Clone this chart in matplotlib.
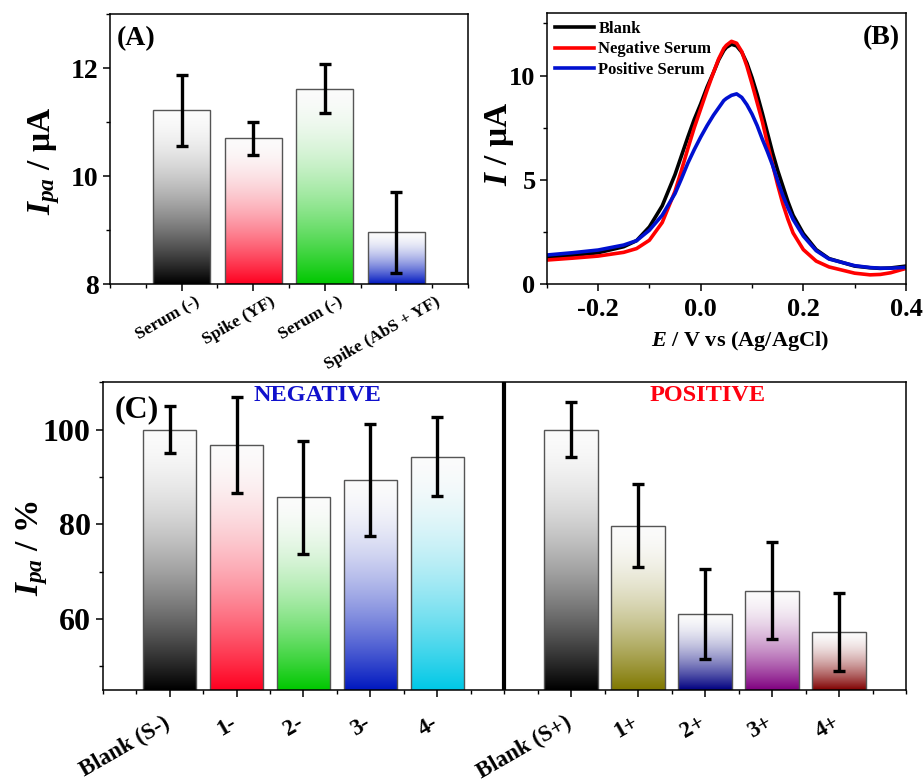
import matplotlib
matplotlib.use('Agg')
import matplotlib.pyplot as plt
import matplotlib.transforms as mtransforms
from matplotlib.ticker import MultipleLocator
from matplotlib.colors import to_rgb
import numpy as np

plt.rcParams['font.family'] = 'Liberation Serif'
plt.rcParams['font.weight'] = 'bold'
plt.rcParams['axes.labelweight'] = 'bold'
plt.rcParams['mathtext.fontset'] = 'custom'
plt.rcParams['mathtext.it'] = 'Liberation Serif:italic:bold'
plt.rcParams['mathtext.rm'] = 'Liberation Serif:bold'
plt.rcParams['mathtext.bf'] = 'Liberation Serif:bold'
plt.rcParams['axes.linewidth'] = 1.1

# ---- panel A data
a_labels = ['Serum (-)', 'Spike (YF)', 'Serum (-)', 'Spike (AbS + YF)']
a_values = [11.22, 10.70, 11.62, 8.96]
a_errors = [0.66, 0.30, 0.45, 0.75]
a_colors = ['#000000', '#ff0020', '#00c800', '#0018c0']

# ---- panel B data (differential pulse voltammograms)
b_potential = [-0.30, -0.25, -0.20, -0.15, -0.125, -0.10, -0.075, -0.05, -0.0375, -0.025,
               -0.0125, 0.0, 0.0125, 0.025, 0.035, 0.045, 0.05, 0.06, 0.07, 0.08,
               0.09, 0.10, 0.11, 0.12, 0.13, 0.14, 0.15, 0.16, 0.17, 0.18,
               0.20, 0.225, 0.25, 0.30, 0.33, 0.35, 0.37, 0.40]
b_blank = [1.28, 1.38, 1.50, 1.79, 2.08, 2.74, 3.75, 5.25, 6.15, 7.05,
           7.9, 8.64, 9.45, 10.15, 10.75, 11.2, 11.35, 11.5, 11.42, 11.12,
           10.6, 9.9, 9.1, 8.2, 7.25, 6.3, 5.45, 4.7, 3.95, 3.3,
           2.42, 1.65, 1.22, 0.86, 0.78, 0.75, 0.77, 0.86]
b_negative = [1.15, 1.24, 1.34, 1.52, 1.70, 2.10, 2.95, 4.45, 5.45, 6.5,
              7.5, 8.4, 9.3, 10.15, 10.8, 11.3, 11.45, 11.64, 11.55, 11.15,
              10.45, 9.6, 8.7, 7.8, 6.75, 5.75, 4.75, 3.85, 3.1, 2.45,
              1.65, 1.10, 0.82, 0.52, 0.44, 0.46, 0.54, 0.75]
b_positive = [1.39, 1.50, 1.63, 1.87, 2.08, 2.58, 3.3, 4.34, 5.05, 5.8,
              6.45, 7.05, 7.6, 8.1, 8.45, 8.8, 8.9, 9.05, 9.12, 8.95,
              8.6, 8.15, 7.6, 6.95, 6.35, 5.7, 4.95, 4.25, 3.65, 3.1,
              2.3, 1.6, 1.2, 0.88, 0.79, 0.76, 0.76, 0.80]

# ---- panel C data
c_neg_labels = ['Blank (S-)', '1-', '2-', '3-', '4-']
c_neg_values = [100, 96.8, 85.7, 89.3, 94.3]
c_neg_errors = [4.95, 10.2, 12.0, 11.8, 8.4]
c_neg_colors = ['#000000', '#ff0020', '#00c800', '#0018c0', '#00c8e6']
c_pos_labels = ['Blank (S+)', '1+', '2+', '3+', '4+']
c_pos_values = [100, 79.7, 61.1, 66.0, 57.3]
c_pos_errors = [5.8, 8.8, 9.5, 10.3, 8.2]
c_pos_colors = ['#000000', '#807800', '#000080', '#800080', '#800000']


def gradient_bars(ax, xs, tops, base, width, colors):
    # white at the top of each bar, full colour at the bottom
    t = np.linspace(0, 1, 256)[:, None] ** 1.7
    for x, top, col in zip(xs, tops, colors):
        c = np.array(to_rgb(col))
        img = (1 - t) * 0.985 + t * c
        ax.imshow(img[:, None, :], extent=[x - width / 2, x + width / 2, base, top],
                  aspect='auto', origin='upper', zorder=1, interpolation='bilinear')
    ax.bar(xs, tops, width=width, facecolor='none', edgecolor='#555555',
           linewidth=1.0, zorder=2)


def style_ticks(ax):
    ax.tick_params(which='major', direction='out', length=5, width=1.1)
    ax.tick_params(which='minor', direction='out', length=3, width=1.0)


fig = plt.figure(figsize=(9.24, 7.82), dpi=100)

# ================= (A)
axA = fig.add_axes([0.119, 0.6368, 0.3874, 0.345])
a_x = np.arange(1, len(a_values) + 1)
gradient_bars(axA, a_x, a_values, 8, 0.8, a_colors)
axA.errorbar(a_x, a_values, yerr=a_errors, fmt='none', ecolor='black',
             elinewidth=2.4, capsize=4, capthick=2.4, zorder=3)
axA.set_xlim(0, 5)
axA.set_ylim(8, 13)
axA.set_yticks([8, 10, 12])
axA.yaxis.set_minor_locator(MultipleLocator(1))
axA.xaxis.set_minor_locator(MultipleLocator(0.5))
axA.set_xticks(a_x)
axA.set_xticklabels(a_labels, rotation=30, ha='center', fontsize=12.5)
style_ticks(axA)
axA.tick_params(axis='y', labelsize=20, pad=3)
axA.tick_params(axis='x', pad=2)
shift = mtransforms.ScaledTranslation(-0.14, 0, fig.dpi_scale_trans)
for lbl in axA.get_xticklabels():
    lbl.set_transform(lbl.get_transform() + shift)
axA.set_ylabel(r'$I_{pa}$ / μA', fontsize=24)
axA.yaxis.set_label_coords(-0.135, 0.455)
axA.text(0.02, 0.955, '(A)', transform=axA.transAxes, fontsize=20,
         ha='left', va='top')

# ================= (B)
axB = fig.add_axes([0.5917, 0.6368, 0.3888, 0.3466])
axB.plot(b_potential, b_blank, color='black', lw=2.6, label='Blank')
axB.plot(b_potential, b_negative, color='#ff0000', lw=2.6, label='Negative Serum')
axB.plot(b_potential, b_positive, color='#0010d0', lw=2.6, label='Positive Serum')
axB.set_xlim(-0.3, 0.4)
axB.set_ylim(0, 13)
axB.set_xticks([-0.2, 0.0, 0.2, 0.4])
axB.set_xticklabels(['-0.2', '0.0', '0.2', '0.4'])
axB.set_yticks([0, 5, 10])
axB.xaxis.set_minor_locator(MultipleLocator(0.1))
axB.yaxis.set_minor_locator(MultipleLocator(2.5))
style_ticks(axB)
axB.tick_params(axis='both', labelsize=19)
axB.tick_params(axis='x', pad=5)
axB.tick_params(axis='y', pad=3)
axB.set_xlabel(r'$E$ / V vs (Ag/AgCl)', fontsize=16)
axB.xaxis.set_label_coords(0.538, -0.165)
axB.xaxis.label.set_va('top')
axB.set_ylabel(r'$I$ / μA', fontsize=24)
axB.yaxis.set_label_coords(-0.085, 0.517)
axB.legend(loc='upper left', bbox_to_anchor=(0.0, 1.0), frameon=False,
           fontsize=12, handlelength=2.35, handletextpad=0.25,
           labelspacing=0.25, borderaxespad=0.3, borderpad=0.2)
axB.text(0.983, 0.956, '(B)', transform=axB.transAxes, fontsize=20,
         ha='right', va='top')

# ================= (C)
axC = fig.add_axes([0.1111, 0.1176, 0.8694, 0.3935])
neg_x = np.arange(1, 6)
pos_x = np.arange(7, 12)
gradient_bars(axC, neg_x, c_neg_values, 45, 0.8, c_neg_colors)
gradient_bars(axC, pos_x, c_pos_values, 45, 0.8, c_pos_colors)
axC.errorbar(neg_x, c_neg_values, yerr=c_neg_errors, fmt='none', ecolor='black',
             elinewidth=2.4, capsize=4, capthick=2.4, zorder=3)
axC.errorbar(pos_x, c_pos_values, yerr=c_pos_errors, fmt='none', ecolor='black',
             elinewidth=2.4, capsize=4, capthick=2.4, zorder=3)
axC.axvline(6, color='black', lw=3, zorder=4)
axC.set_xlim(0, 12)
axC.set_ylim(45, 110)
axC.set_yticks([60, 80, 100])
axC.yaxis.set_minor_locator(MultipleLocator(10))
axC.xaxis.set_minor_locator(MultipleLocator(0.5))
axC.set_xticks(list(neg_x) + list(pos_x))
axC.set_xticklabels(c_neg_labels + c_pos_labels, rotation=30, ha='right', fontsize=16.5)
style_ticks(axC)
axC.tick_params(axis='y', labelsize=23, pad=3.5)
axC.tick_params(axis='x', pad=11)
shiftC = mtransforms.ScaledTranslation(0.04, 0, fig.dpi_scale_trans)
for lbl in axC.get_xticklabels():
    lbl.set_transform(lbl.get_transform() + shiftC)
axC.set_ylabel(r'$I_{pa}$ / %', fontsize=24)
axC.yaxis.set_label_coords(-0.066, 0.462)
axC.text(0.015, 0.959, '(C)', transform=axC.transAxes, fontsize=23,
         ha='left', va='top')
axC.text(3.21, 107.2, 'NEGATIVE', color='#1010cc', fontsize=17.5,
         ha='center', va='center')
axC.text(9.04, 107.2, 'POSITIVE', color='#ff0010', fontsize=17.5,
         ha='center', va='center')

fig.savefig('out.png', dpi=100)
